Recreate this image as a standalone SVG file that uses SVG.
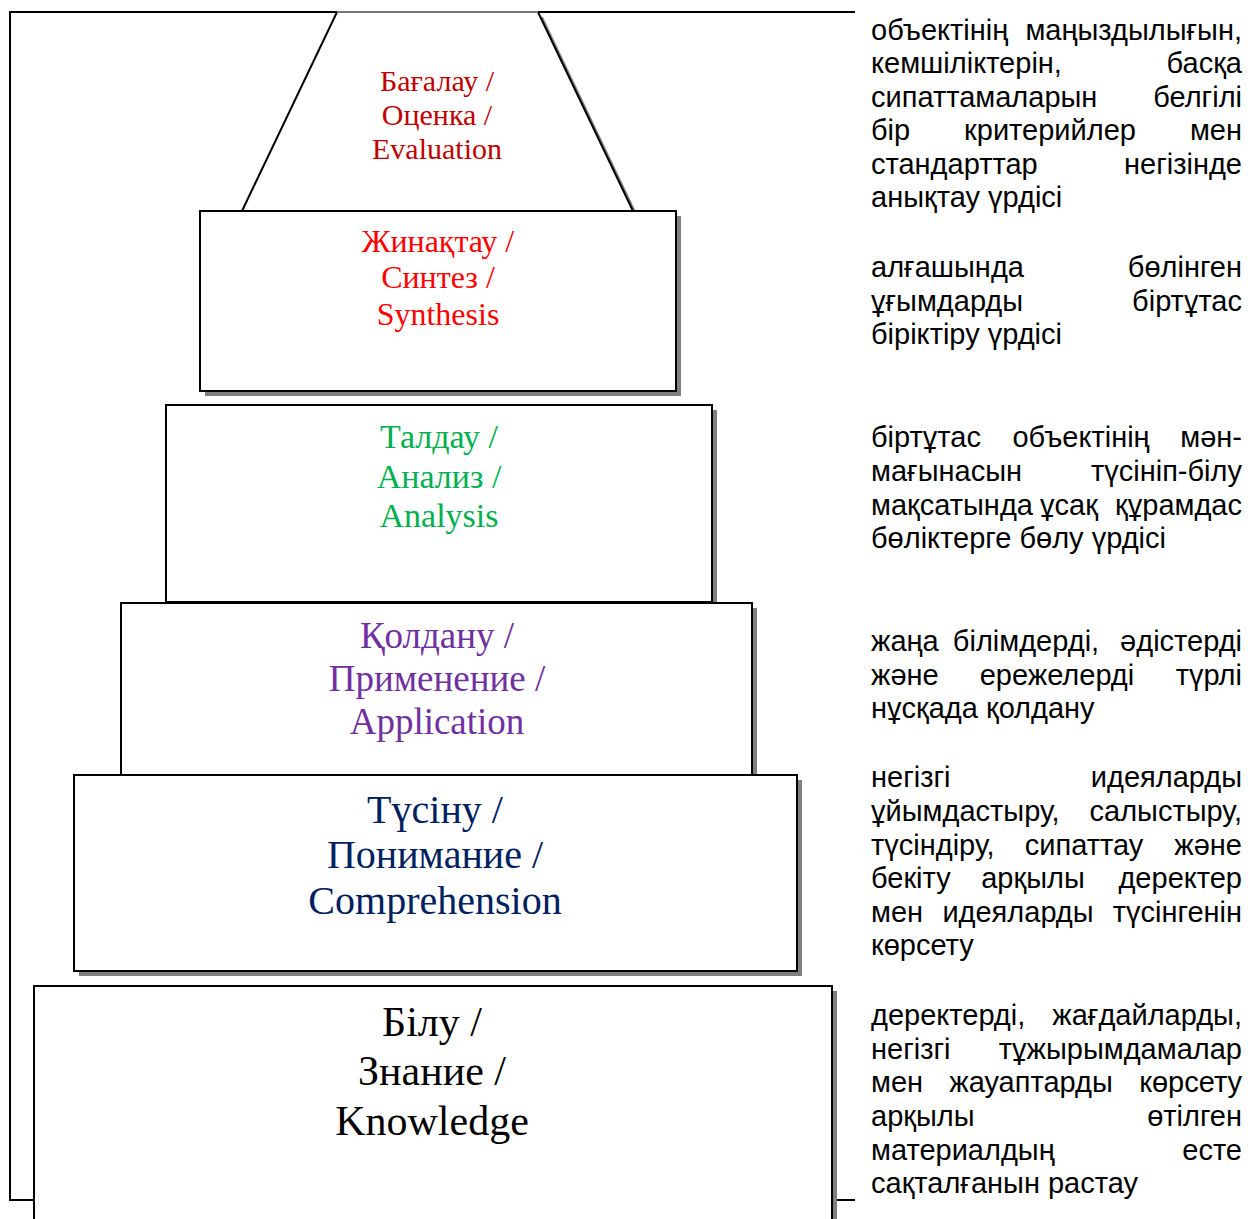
<svg xmlns="http://www.w3.org/2000/svg" width="1253" height="1219" viewBox="0 0 1253 1219">
<style>
.box{fill:#fff;stroke:#000;stroke-width:2}
.sh{fill:#808080;stroke:none}
.lbl{font-family:"Liberation Serif","Times New Roman",serif;text-anchor:middle}
.d{font-family:"Liberation Sans",Arial,sans-serif;font-size:29px;fill:#000}
.r{text-anchor:end}
.m{text-anchor:middle}
</style>
<rect width="1253" height="1219" fill="#fff"/>
<g id="frame" fill="none" stroke="#000" stroke-width="2">
<path d="M855,12 H10 V1200 H855"/>
</g>
<g id="connectors"></g>
<g id="evaluation">
<polygon class="sh" points="342,17 543,17 638,216 247,216"/>
<polygon class="box" points="337,12 538,12 633,211 242,211"/>
<line x1="337" y1="12" x2="538" y2="12" stroke="#777" stroke-width="2"/>
<text class="lbl" font-size="30" fill="#C00000"><tspan x="437" y="91">Бағалау /</tspan><tspan x="437" y="125">Оценка /</tspan><tspan x="437" y="159">Evaluation</tspan></text>
</g>
<g id="synthesis">
<rect class="sh" x="205" y="216" width="476" height="180"/>
<rect class="box" x="200" y="211" width="476" height="180"/>
<text class="lbl" font-size="32" fill="#FF0000"><tspan x="438" y="252">Жинақтау /</tspan><tspan x="438" y="288">Синтез /</tspan><tspan x="438" y="325">Synthesis</tspan></text>
</g>
<g id="analysis">
<rect class="sh" x="171" y="410" width="546" height="197"/>
<rect class="box" x="166" y="405" width="546" height="197"/>
<text class="lbl" font-size="34" fill="#00B050"><tspan x="439" y="448">Талдау /</tspan><tspan x="439" y="488">Анализ /</tspan><tspan x="439" y="527">Analysis</tspan></text>
</g>
<g id="application">
<rect class="sh" x="126" y="608" width="631" height="172"/>
<rect class="box" x="121" y="603" width="631" height="172"/>
<text class="lbl" font-size="37" fill="#7030A0"><tspan x="437" y="648">Қолдану /</tspan><tspan x="437" y="691">Применение /</tspan><tspan x="437" y="734">Application</tspan></text>
</g>
<g id="comprehension">
<rect class="sh" x="79" y="780" width="723" height="196"/>
<rect class="box" x="74" y="775" width="723" height="196"/>
<text class="lbl" font-size="40" fill="#002060"><tspan x="435" y="823">Түсіну /</tspan><tspan x="435" y="868">Понимание /</tspan><tspan x="435" y="914">Comprehension</tspan></text>
</g>
<g id="knowledge">
<rect class="sh" x="39" y="991" width="798" height="260"/>
<rect class="box" x="34" y="986" width="798" height="260"/>
<text class="lbl" font-size="42" fill="#000"><tspan x="432" y="1036">Білу /</tspan><tspan x="432" y="1085">Знание /</tspan><tspan x="432" y="1135">Knowledge</tspan></text>
</g>
<g id="desc-evaluation" class="d">
<text x="871" y="40">объектінің</text><text class="r" x="1242" y="40">маңыздылығын,</text>
<text x="871" y="73">кемшіліктерін,</text><text class="r" x="1242" y="73">басқа</text>
<text x="871" y="107">сипаттамаларын</text><text class="r" x="1242" y="107">белгілі</text>
<text x="871" y="140">бір</text><text class="m" x="1050" y="140">критерийлер</text><text class="r" x="1242" y="140">мен</text>
<text x="871" y="174">стандарттар</text><text class="r" x="1242" y="174">негізінде</text>
<text x="871" y="207">анықтау үрдісі</text>
</g>
<g id="desc-synthesis" class="d">
<text x="871" y="277">алғашында</text><text class="r" x="1242" y="277">бөлінген</text>
<text x="871" y="311">ұғымдарды</text><text class="r" x="1242" y="311">біртұтас</text>
<text x="871" y="344">біріктіру үрдісі</text>
</g>
<g id="desc-analysis" class="d">
<text x="871" y="447">біртұтас</text><text class="m" x="1081" y="447">объектінің</text><text class="r" x="1242" y="447">мән-</text>
<text x="871" y="481">мағынасын</text><text class="r" x="1242" y="481">түсініп-білу</text>
<text x="871" y="515">мақсатында</text><text class="m" x="1069" y="515">ұсақ</text><text class="r" x="1242" y="515">құрамдас</text>
<text x="871" y="548">бөліктерге бөлу үрдісі</text>
</g>
<g id="desc-application" class="d">
<text x="871" y="651">жаңа</text><text class="m" x="1026" y="651">білімдерді,</text><text class="r" x="1242" y="651">әдістерді</text>
<text x="871" y="685">және</text><text class="m" x="1057" y="685">ережелерді</text><text class="r" x="1242" y="685">түрлі</text>
<text x="871" y="718">нұсқада қолдану</text>
</g>
<g id="desc-comprehension" class="d">
<text x="871" y="787">негізгі</text><text class="r" x="1242" y="787">идеяларды</text>
<text x="871" y="821">ұйымдастыру,</text><text class="r" x="1242" y="821">салыстыру,</text>
<text x="871" y="855">түсіндіру,</text><text class="m" x="1084" y="855">сипаттау</text><text class="r" x="1242" y="855">және</text>
<text x="871" y="888">бекіту</text><text class="m" x="1033" y="888">арқылы</text><text class="r" x="1242" y="888">деректер</text>
<text x="871" y="922">мен</text><text class="m" x="1018" y="922">идеяларды</text><text class="r" x="1242" y="922">түсінгенін</text>
<text x="871" y="955">көрсету</text>
</g>
<g id="desc-knowledge" class="d">
<text x="871" y="1025">деректерді,</text><text class="r" x="1242" y="1025">жағдайларды,</text>
<text x="871" y="1059">негізгі</text><text class="r" x="1242" y="1059">тұжырымдамалар</text>
<text x="871" y="1092">мен</text><text class="m" x="1031" y="1092">жауаптарды</text><text class="r" x="1242" y="1092">көрсету</text>
<text x="871" y="1126">арқылы</text><text class="r" x="1242" y="1126">өтілген</text>
<text x="871" y="1160">материалдың</text><text class="r" x="1242" y="1160">есте</text>
<text x="871" y="1193">сақталғанын растау</text>
</g>
</svg>
